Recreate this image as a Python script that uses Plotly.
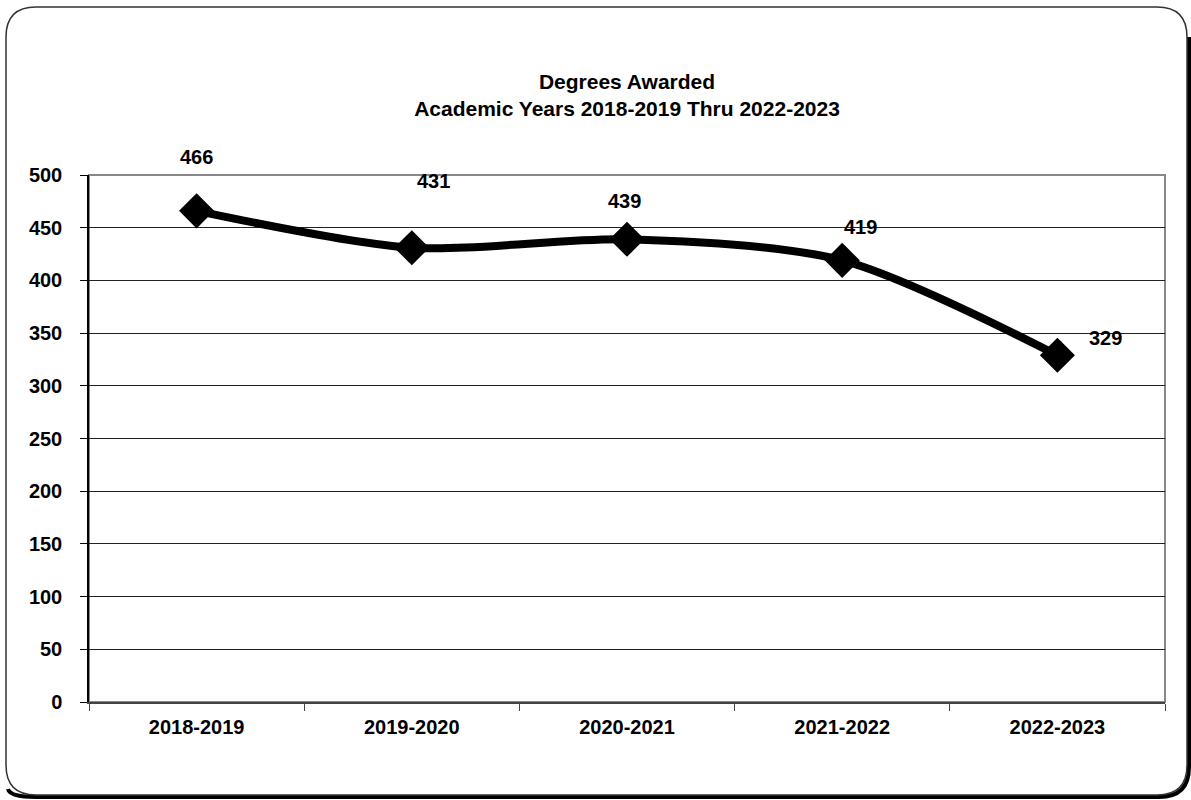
import plotly.graph_objects as go

categories = ["2018-2019", "2019-2020", "2020-2021", "2021-2022", "2022-2023"]
degrees = [466, 431, 439, 419, 329]
y_ticks = [0, 50, 100, 150, 200, 250, 300, 350, 400, 450, 500]

title_text = "Degrees Awarded<br>Academic Years 2018-2019 Thru 2022-2023"
FONT = "Liberation Sans Narrow, Arial Narrow, Liberation Sans, Arial, sans-serif"

W, H = 1191, 800
L, R, T, B = 89, 1165, 175, 702  # plot area pixels


def px(x):
    return (x - L) / (R - L)


def py(y):
    return (B - y) / (B - T)


def rr_path(x0, y0, x1, y1, r):
    return (f"M {px(x0 + r)},{py(y0)} L {px(x1 - r)},{py(y0)} "
            f"Q {px(x1)},{py(y0)} {px(x1)},{py(y0 + r)} "
            f"L {px(x1)},{py(y1 - r)} Q {px(x1)},{py(y1)} {px(x1 - r)},{py(y1)} "
            f"L {px(x0 + r)},{py(y1)} Q {px(x0)},{py(y1)} {px(x0)},{py(y1 - r)} "
            f"L {px(x0)},{py(y0 + r)} Q {px(x0)},{py(y0)} {px(x0 + r)},{py(y0)} Z")


def shadow_path(x0, y0, x1, y1, r, d):
    return (f"M {px(x1 + d)},{py(y0 + r)} L {px(x1 + d)},{py(y1 - r + d)} "
            f"Q {px(x1 + d)},{py(y1 + d)} {px(x1 - r + d)},{py(y1 + d)} "
            f"L {px(x0 + r)},{py(y1 + d)} Q {px(x0 + 4)},{py(y1 + d)} {px(x0 + 2)},{py(y1 - 6)}")


fig = go.Figure()
fig.add_trace(go.Scatter(
    x=categories, y=degrees, mode="lines+markers",
    line=dict(color="black", width=8, shape="spline", smoothing=0.8),
    marker=dict(symbol="diamond", size=27, color="black"),
    hoverinfo="x+y", showlegend=False, cliponaxis=False,
))

label_offsets = [(0, 54), (22, 67), (-3, 38), (18, 33), (48, 17)]
for c, v, (dx, dy) in zip(categories, degrees, label_offsets):
    fig.add_annotation(x=c, y=v, text=str(v), showarrow=False,
                       xshift=dx, yshift=dy,
                       font=dict(family=FONT, size=20, color="black", weight="bold"))

frame = (6, 7, 1187, 795)
fig.add_shape(type="path", xref="paper", yref="paper",
              path=shadow_path(*frame, 30, 2), line=dict(color="black", width=4), layer="above")
fig.add_shape(type="path", xref="paper", yref="paper",
              path=rr_path(*frame, 30), line=dict(color="#333333", width=1.5), layer="above")
# plot area border (gray top/right)
fig.add_shape(type="rect", xref="paper", yref="paper", x0=0, y0=0, x1=1, y1=1,
              line=dict(color="#888888", width=2), layer="below")

fig.update_layout(
    width=W, height=H,
    margin=dict(l=L, r=W - R, t=T, b=H - B),
    paper_bgcolor="white", plot_bgcolor="white",
    font=dict(family=FONT, color="black"),
    title=dict(text=title_text, x=627 / W, xanchor="center",
               y=1 - 89 / H, yanchor="middle", xref="container", yref="container",
               font=dict(family=FONT, size=21, color="black", weight="bold")),
)
fig.update_xaxes(
    type="category", tickson="boundaries", ticks="outside", ticklen=7, tickcolor="#444",
    showline=True, linecolor="#444", linewidth=2, showgrid=False,
    tickfont=dict(family=FONT, size=20, color="black", weight="bold"),
    ticklabelstandoff=6,
    range=[-0.5, 4.5],
)
fig.update_yaxes(
    range=[0, 500], tickvals=y_ticks, ticks="outside", ticklen=7, tickcolor="black",
    showline=True, linecolor="black", linewidth=1.5,
    showgrid=True, gridcolor="#222222", gridwidth=1, zeroline=False,
    tickfont=dict(family=FONT, size=20, color="black", weight="bold"),
    ticklabelstandoff=14,
)

fig.write_html("out.html", config={"displayModeBar": False},
               post_script="document.body.style.margin='0';")
